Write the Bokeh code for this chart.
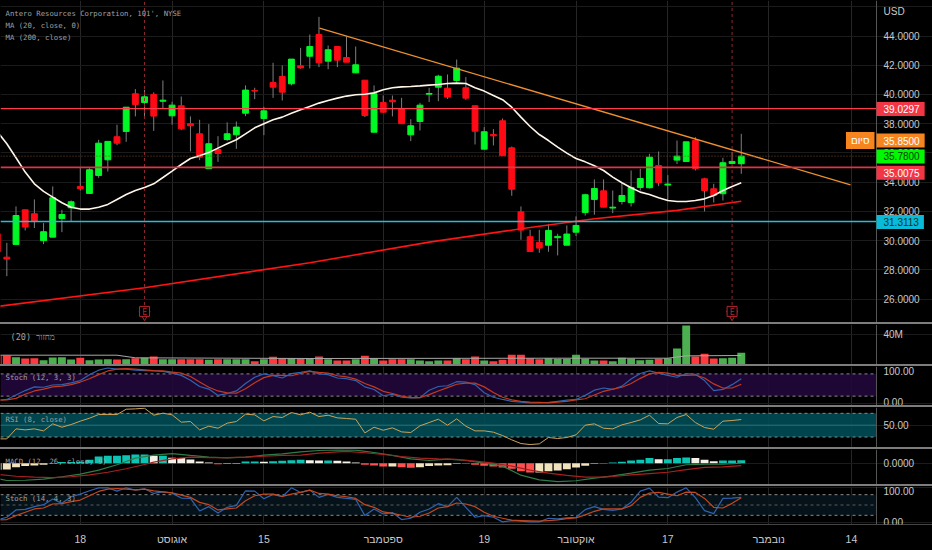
from bokeh.plotting import figure
from bokeh.layouts import column
from bokeh.models import (Range1d, FixedTicker, Grid, BoxAnnotation, Label,
                          NumeralTickFormatter, ColumnDataSource, Spacer)
from bokeh.core.properties import value
from bokeh.embed import file_html
from bokeh.resources import INLINE

# ---------- data ----------
bars = list(range(-1, 81))
opens = [30.47,28.87,29.74,32.11,31.84,30.0,30.24,31.52,32.25,33.71,33.23,34.46,35.53,37.11,37.47,40.05,39.45,40.0,39.54,38.54,39.23,38.0,37.31,34.92,36.24,36.92,37.24,38.72,40.27,38.36,40.82,41.23,40.73,41.96,42.62,44.1,42.28,43.28,42.53,41.48,40.98,37.42,39.45,39.61,39.0,37.24,38.15,40.02,40.5,40.43,40.96,40.46,39.23,36.26,37.26,38.2,36.35,31.97,30.27,29.88,29.69,30.2,29.69,30.58,31.93,32.82,33.41,32.23,32.68,32.61,33.64,33.62,35.14,33.8,35.51,35.42,36.85,34.23,33.55,33.21,35.28,35.26]
closes = [29.22,28.74,31.72,30.93,31.31,30.61,32.93,31.79,32.66,33.55,34.85,36.67,36.79,36.67,39.13,39.32,39.84,38.52,39.61,39.27,37.65,37.86,35.71,36.63,35.96,37.31,37.77,40.3,40.23,38.88,40.5,40.16,42.42,41.82,43.28,42.17,43.06,42.35,42.21,42.03,38.56,40.05,38.79,39.5,38.0,37.86,39.27,40.07,41.25,39.82,41.8,39.75,37.49,37.45,37.17,35.81,33.52,30.72,29.26,29.49,30.7,30.29,30.45,31.04,33.14,33.57,32.29,32.29,33.09,33.64,34.25,35.71,33.98,33.87,35.78,36.76,34.94,33.43,33.09,35.33,35.42,35.78]
highs = [30.81,29.85,32.34,32.11,32.82,31.2,33.71,32.11,32.75,34.96,34.96,36.9,36.79,37.93,39.13,40.37,40.32,40.14,40.96,39.5,39.86,38.5,38.27,37.97,37.15,38.09,38.15,40.62,40.46,39.16,42.17,41.98,42.42,43.19,44.1,45.31,43.35,43.28,43.97,43.28,40.98,40.62,39.93,39.93,39.77,38.31,39.43,40.46,41.35,41.37,42.39,41.19,39.23,37.77,37.63,38.36,36.44,32.34,30.74,30.74,31.15,30.47,31.04,31.66,33.21,34.19,34.19,33.43,33.94,34.8,34.92,35.94,36.1,34.48,36.85,36.76,37.08,34.3,33.89,35.67,36.06,37.31]
lows = [29.10,27.57,29.74,30.70,30.86,29.76,30.24,30.58,31.34,33.43,33.23,34.3,34.73,36.53,36.76,38.5,38.45,37.51,39.02,37.93,37.56,36.1,35.51,34.92,35.39,36.81,36.28,38.52,39.68,37.22,39.77,39.59,40.62,41.76,41.78,41.87,41.73,41.87,42.21,41.46,38.45,37.42,38.75,38.5,38.0,36.81,37.54,39.48,39.54,39.7,40.8,39.64,36.58,36.26,36.51,35.81,33.07,30.06,29.26,29.17,29.24,28.99,29.69,30.31,31.72,31.77,32.29,31.88,32.48,32.34,33.43,33.57,33.73,32.75,35.24,35.42,34.8,32.0,32.61,32.75,35.26,34.57]
ma20 = [37.42,36.63,35.67,34.69,33.89,33.37,32.98,32.59,32.29,32.16,32.16,32.29,32.48,32.82,33.16,33.43,33.64,33.89,34.32,34.76,35.21,35.62,35.81,36.03,36.33,36.63,36.9,37.31,37.72,38.0,38.27,38.45,38.72,38.95,39.18,39.41,39.59,39.75,39.89,39.98,40.02,40.11,40.32,40.46,40.52,40.55,40.59,40.64,40.68,40.75,40.78,40.75,40.46,40.23,39.93,39.64,39.13,38.45,37.81,37.26,36.85,36.4,35.99,35.62,35.39,35.12,34.8,34.35,33.96,33.62,33.32,33.16,32.93,32.75,32.68,32.68,32.75,32.86,33.09,33.43,33.71,33.96]
ma200_bars = [-1,15,33,46,56,64,73,80]
ma200 = [25.5,26.78,28.49,29.9,30.81,31.5,32.07,32.7]
trend_bars = [34.06,91.9]
trend = [44.54,33.82]
earnings_bars = [15,79]
level_upper = 39.0297
level_mid = 35.0075
level_low = 31.3113
last_close = 35.78

volume = [12.0,12.0,9.8,8.0,8.4,5.8,9.3,9.8,6.7,8.9,5.8,6.7,7.1,6.7,7.1,8.4,8.9,10.7,7.1,7.1,7.1,7.1,7.1,6.2,7.1,7.1,7.1,7.1,4.4,7.1,10.2,8.4,8.4,7.6,8.4,10.7,7.1,5.3,5.3,7.1,11.5,8.4,5.3,7.1,7.1,7.1,5.3,4.4,5.3,5.3,8.4,7.1,10.7,5.3,4.4,6.2,12.9,12.9,8.4,7.1,8.4,7.6,7.6,12.9,7.6,5.3,5.3,4.4,8.9,8.0,5.8,6.2,7.6,8.4,21.3,52.0,10.7,14.2,8.0,8.4,8.9,15.5]
vol_ma_bars = [-1,8,12,14,33,60,72,74,80]
vol_ma = [12.4,12.4,12.4,8.9,8.0,8.4,8.4,11.5,12.0]

stoch1_k = [9,11,23,35,45,44,50,51,56,62,78,90,96,93,93,90,89,88,87,82,76,63,46,39,22,27,34,54,71,80,75,69,81,84,88,80,78,69,67,62,45,38,21,25,17,15,16,36,46,48,59,58,51,29,17,11,6,4,2,2,3,6,9,11,22,36,42,38,47,66,81,88,82,76,71,81,79,62,35,38,51,67]
stoch1_d = [9,10,14,25,34,39,45,47,51,58,67,78,88,93,94,93,91,89,88,85,82,73,58,44,34,29,28,40,56,70,76,76,75,81,87,84,82,75,72,66,54,45,33,27,20,16,16,24,34,43,52,55,55,45,30,17,10,6,4,3,2,4,6,10,13,23,33,39,44,54,68,80,84,82,76,76,77,69,53,42,42,52]
rsi = [26.9,26.9,43.8,42.1,43.8,40.4,52.3,46.6,51.1,56.8,61.8,68,68,68,77,77.6,78.7,66.9,70.3,67.5,55.1,56.2,42.1,48.3,44.9,53.4,56.2,68.6,67.5,57.3,64.6,63,71.4,67.5,72,64.6,66.9,62.4,61.3,60.1,37,46.6,41.5,45.5,38.7,37.6,48.9,54.5,60.1,50,60.7,48.3,40.4,40.4,38.2,32.5,25.2,19,17.3,18.4,29.2,27.5,29.2,33.7,50,52.3,44.9,43.8,50.6,54.5,59,66.9,52.8,52.3,63,68,54.5,46.1,43.2,56.8,57.9,59.6]
macd_hist = [-0.5,-0.48,-0.3,-0.22,-0.18,-0.12,-0.02,0.08,0.08,0.1,0.25,0.5,0.55,0.55,0.6,0.65,0.65,0.55,0.55,0.4,0.38,0.28,0.12,0.05,-0.08,-0.05,-0.05,0.12,0.12,0.1,0.15,0.18,0.22,0.25,0.22,0.2,0.2,0.18,0.12,0.05,-0.12,-0.18,-0.25,-0.25,-0.3,-0.35,-0.3,-0.22,-0.18,-0.15,-0.05,-0.02,-0.12,-0.2,-0.25,-0.32,-0.42,-0.6,-0.7,-0.7,-0.6,-0.55,-0.45,-0.32,-0.2,-0.05,-0.02,0.05,0.1,0.2,0.25,0.38,0.3,0.3,0.38,0.42,0.38,0.25,0.15,0.2,0.2,0.22]
macd_bars = [-1,0,2,4,6,8,10,12,14,16,18,20,22,24,26,28,30,32,34,36,38,40,42,44,46,48,50,52,54,56,58,60,62,64,66,68,70,72,74,76,78,80]
macd_line = [-1.15,-1.3,-1.28,-1.2,-1.02,-0.82,-0.52,-0.12,0.38,0.6,0.72,0.58,0.45,0.4,0.45,0.6,0.7,0.85,0.95,1.0,0.98,0.8,0.58,0.32,0.2,0.3,0.2,0,-0.22,-0.9,-1.25,-1.38,-1.32,-1.12,-0.95,-0.75,-0.52,-0.4,-0.12,-0.08,-0.08,0]
signal_bars = [-1,1,3,5,7,9,11,13,15,16,18,20,22,24,26,28,30,32,34,36,37,39,41,43,45,47,49,51,53,55,57,59,61,63,65,66,68,70,72,74,76,78,80]
signal_line = [-0.85,-0.98,-1.05,-1.08,-1.02,-0.88,-0.68,-0.42,-0.1,0.08,0.32,0.45,0.42,0.42,0.45,0.52,0.58,0.6,0.75,0.85,0.88,0.78,0.65,0.5,0.38,0.32,0.28,0.15,0,-0.22,-0.52,-0.75,-0.92,-1.05,-1.05,-1.0,-0.88,-0.78,-0.68,-0.48,-0.32,-0.28,-0.18]
stoch2_k = [6.7,14.4,35.6,37.5,45.2,51,67.3,54.8,74,81.7,91.3,100,100,90.4,100,93.3,97.1,83.6,88.4,84.6,70.2,69.2,32.7,45.2,26.9,43.3,49,91.3,90.4,68.3,80.8,74,100,86.5,93.3,72.1,80.8,72.1,69.2,66.3,19.2,38.5,24,27.9,7.7,11.5,28.8,38.5,53.8,45.2,72.1,43.3,14.4,19.2,14.4,1,4.8,2.9,1,1,11.5,9.6,12.5,14.4,36.5,45.2,37.5,34.6,38.5,57.7,90.4,99,73,71.2,87.5,100,71.2,33.7,25,69.2,70.2,72.1]
stoch2_d = [6.7,7.7,19.2,28.8,38.5,41.3,52.9,53.8,59.6,64.4,76.9,89.4,96.2,98,96.2,94.2,96.2,91.3,88.4,85.6,78.8,72.1,57.7,51,35.6,38.5,41.3,62.5,76.9,81.7,81.7,75,81.7,86.5,93.3,83.6,81.7,76.9,74,69.2,51,43.3,29.8,25.9,20.2,14.4,17.3,26.9,41.3,45.2,55.8,52.9,45.2,28.8,17.3,11.5,5.8,4.8,3.8,2.9,4.8,6.7,10.6,12.5,21.2,31.7,38.5,38.5,38.5,48.1,72.1,84.6,86.5,81.7,76.9,87.5,86.5,69.2,43.3,41.3,54.8,71.2]

price_ticks = [26,28,30,32,34,36,38,40,42,44]
price_grid = price_ticks + [46]
x_ticks = [8,18,28,41,52,62,72,83,92]
x_labels = ["18","אוגוסט","15","ספטמבר","19","אוקטובר","17","נובמבר","14"]

# ---------- style ----------
BG = "#000000"
GRID_V = "#262626"
GRID_H = "#1b1b1b"
SEP = "#7d7d7d"
SCALE = "#555555"
TXT = "#c9c9c9"
NOTE = "#a0a0a0"
GREEN = "#00f826"
RED = "#ff0a14"
VOL_G = "#4caf50"
VOL_R = "#ff3b3f"
W = 932
X_LEFT = -0.69
X_SCALE = 94.73   # bar position of the price scale's edge
X_FULL = 100.83   # bar position of the window's right edge
XR = Range1d(X_LEFT, X_FULL)
MONO = "DejaVu Sans Mono"
SANS = "Liberation Sans"


def panel(height, y0, y1, ticks, fmt=None, overrides=None, bottom=False, grid_y=None):
    f = figure(width=W, height=height, x_range=XR, y_range=Range1d(y0, y1),
               output_backend="svg", toolbar_location=None, tools="",
               y_axis_location="right", x_axis_location="below" if bottom else None,
               background_fill_color=BG, border_fill_color=BG, outline_line_color=None,
               min_border_left=0, min_border_right=0, min_border_top=0,
               min_border_bottom=26 if bottom else 0)
    f.grid.visible = False
    f.add_layout(Grid(dimension=0, ticker=FixedTicker(ticks=x_ticks),
                      grid_line_color=GRID_V, grid_line_width=1))
    if grid_y is None:
        grid_y = ticks
    f.add_layout(Grid(dimension=1, ticker=FixedTicker(ticks=grid_y),
                      grid_line_color=GRID_H, grid_line_width=1,
                      bounds=(X_LEFT, X_SCALE)))
    ax = f.yaxis[0]
    ax.ticker = FixedTicker(ticks=ticks)
    if fmt:
        ax.formatter = NumeralTickFormatter(format=fmt)
    if overrides:
        ax.major_label_overrides = overrides
    ax.major_tick_line_color = None
    ax.minor_tick_line_color = None
    ax.major_tick_out = 0
    ax.major_tick_in = 0
    ax.minor_tick_out = 0
    ax.minor_tick_in = 0
    ax.axis_line_color = SCALE
    ax.major_label_standoff = 7
    ax.major_label_text_color = TXT
    ax.major_label_text_font = SANS
    ax.major_label_text_font_size = "10px"
    ax.fixed_location = X_SCALE
    if bottom:
        bx = f.xaxis[0]
        bx.ticker = FixedTicker(ticks=x_ticks)
        bx.major_label_overrides = dict(zip(x_ticks, x_labels))
        bx.major_tick_line_color = None
        bx.minor_tick_line_color = None
        bx.major_tick_out = 0
        bx.major_tick_in = 0
        bx.minor_tick_out = 0
        bx.minor_tick_in = 0
        bx.axis_line_color = "#444444"
        bx.major_label_standoff = 8
        bx.major_label_text_color = TXT
        bx.major_label_text_font = SANS
        bx.major_label_text_font_size = "10.5px"
    return f


def note(f, text, y, x=5, size="7.3px", font=MONO):
    f.add_layout(Label(x=x, x_units="screen", y=y, text=text, text_color=NOTE,
                       text_font=font, text_font_size=size, text_baseline="middle"))


def level(f, y, color, width, dash="solid"):
    f.segment([X_LEFT], [y], [X_SCALE], [y], line_color=color, line_width=width, line_dash=dash)


def band(f, lo, hi, fill):
    f.add_layout(BoxAnnotation(left=X_LEFT, right=X_SCALE, bottom=lo, top=hi, fill_color=fill,
                               fill_alpha=0.92, line_color=None, level="underlay"))
    level(f, lo, "#8a8a8a", 1, "3 3")
    level(f, hi, "#8a8a8a", 1, "3 3")


def sep():
    return Spacer(width=W, height=2, margin=0, styles={"background-color": SEP})


# ---------- main price panel ----------
up = [c >= o for o, c in zip(opens, closes)]
main = panel(322, 24.40, 46.43, price_ticks, fmt="0.0000", grid_y=price_grid)
src = ColumnDataSource(dict(x=bars, top=[max(o, c) for o, c in zip(opens, closes)],
                            bottom=[min(o, c) for o, c in zip(opens, closes)],
                            high=highs, low=lows,
                            color=[GREEN if u else RED for u in up]))
main.segment("x", "low", "x", "high", source=src, line_color="#7f7f7f", line_width=1)
main.vbar("x", 0.64, "top", "bottom", source=src, fill_color="color", line_color="color")
main.line(ma200_bars, ma200, line_color="#ff1414", line_width=1.6)
main.line(bars, ma20, line_color="#fff6e8", line_width=1.6)
main.line(trend_bars, trend, line_color="#ee9030", line_width=1.3)
main.segment(earnings_bars, [25.6] * 2, earnings_bars, [46.43] * 2,
             line_color="#8f2a30", line_width=1, line_dash="3 3")
level(main, level_upper, "#ff3b4e", 1.3)
level(main, level_mid, "#dc3545", 1.8)
level(main, level_low, "#22bfd8", 1.3)
level(main, last_close, "#7a4a22", 1, "1 2")
main.scatter(earnings_bars, [24.96] * 2, marker="inverted_triangle", size=11,
             fill_color="#000000", line_color="#b3262e", line_width=1)
main.scatter(earnings_bars, [25.16] * 2, marker="square", size=10,
             fill_color="#000000", line_color="#b3262e", line_width=1)
main.text(earnings_bars, [25.05] * 2, text=["E", "E"], text_color="#b3262e",
          text_font=value(MONO), text_font_size="8px", text_align="center",
          text_baseline="middle")
note(main, "Antero Resources Corporation, 101', NYSE", 45.52)
note(main, "MA (20, close, 0)", 44.70)
note(main, "MA (200, close)", 43.88)


def tag(f, text, y, fill, color="#ffffff"):
    f.add_layout(Label(x=876, x_units="screen", y=y, text=text, text_color=color,
                       text_font=SANS, text_font_size="10px", text_align="left",
                       text_baseline="middle", background_fill_color=fill,
                       padding=(7, 5, 3, 3), level="overlay"))


tag(main, "39.0297", 39.0, "#f23645")
tag(main, "35.8500", 36.85, "#f7851f")
tag(main, "35.7800", 35.76, "#00f800", "#06380c")
tag(main, "35.0075", 34.64, "#f23645")
tag(main, "31.3113", 31.27, "#0abbd8", "#06303a")
main.add_layout(Label(x=874, x_units="screen", y=36.85, text="סיום", text_color="#ffffff",
                      text_font=SANS, text_font_size="10px", text_align="right",
                      text_baseline="middle", background_fill_color="#f7851f",
                      padding=(5, 5, 3, 3), level="overlay"))
main.add_layout(Label(x=883, x_units="screen", y=45.68, text="USD", text_color=TXT,
                      text_font=SANS, text_font_size="10px", text_baseline="middle",
                      level="overlay"))

# ---------- volume ----------
vol = panel(40, 0, 53.3, [40], overrides={40: "40M"})
vol.vbar(bars, 0.86, volume, 0, fill_color=[VOL_G if u else VOL_R for u in up], line_color=None)
vol.line(vol_ma_bars, vol_ma, line_color="#a8a8a8", line_width=1)
note(vol, "מחזור (20)", 36.0, x=10, size="8.5px")

# ---------- stochastic 1 ----------
st1 = panel(39, -5.3, 100, [0, 100], fmt="0.00")
band(st1, 20, 80, "#21083a")
st1.line(bars, stoch1_k, line_color="#2f63ad", line_width=1.2)
st1.line(bars, stoch1_d, line_color="#c23a20", line_width=1.2)
note(st1, "Stoch (12, 3, 3)", 69.5)

# ---------- RSI ----------
rs = panel(40, 12.3, 79.9, [50], fmt="0.00")
band(rs, 30, 70, "#004b55")
level(rs, 50, "#2f7078", 1)
rs.line(bars, rsi, line_color="#c9a35c", line_width=1)
note(rs, "RSI (8, close)", 59.6)

# ---------- MACD ----------
hist_colors = []
for n, v in enumerate(macd_hist):
    rising = n == 0 or v >= macd_hist[n - 1]
    if v >= 0:
        hist_colors.append("#0cc4b4" if rising else "#f3f1e8")
    else:
        hist_colors.append("#efe2bd" if rising else "#ff5050")
mc = panel(35, -1.6, 1.025, [0], fmt="0.0000")
mc.vbar(bars, 0.86, macd_hist, 0, fill_color=hist_colors, line_color=None)
mc.line(macd_bars, macd_line, line_color="#2e7d46", line_width=1.2)
mc.line(signal_bars, signal_line, line_color="#a8201f", line_width=1.2)
note(mc, "MACD (12, 26, close, 9)", 0.125)

# ---------- stochastic 2 ----------
st2 = panel(64, -6.7, 103.8, [0, 100], fmt="0.00", bottom=True)
band(st2, 20, 80, "#06131b")
level(st2, 50, "#5a5a5a", 1, "3 3")
st2.line(bars, stoch2_k, line_color="#2f63ad", line_width=1.2)
st2.line(bars, stoch2_d, line_color="#c2481f", line_width=1.2)
note(st2, "Stoch (14, 4, 3)", 69)

page = column(main, sep(), vol, sep(), st1, sep(), rs, sep(), mc, sep(), st2,
              spacing=0, margin=0, styles={"background-color": BG})

TEMPLATE = """<!DOCTYPE html>
<html lang="he"><head><meta charset="utf-8"><title>{{ title }}</title>
<style>html,body{margin:0;padding:0;background:#000;overflow:hidden}</style>
{{ bokeh_css }}{{ bokeh_js }}</head>
<body>{{ plot_div }}{{ plot_script }}</body></html>"""

open("out.html", "w").write(file_html(page, INLINE, title="chart", template=TEMPLATE))
